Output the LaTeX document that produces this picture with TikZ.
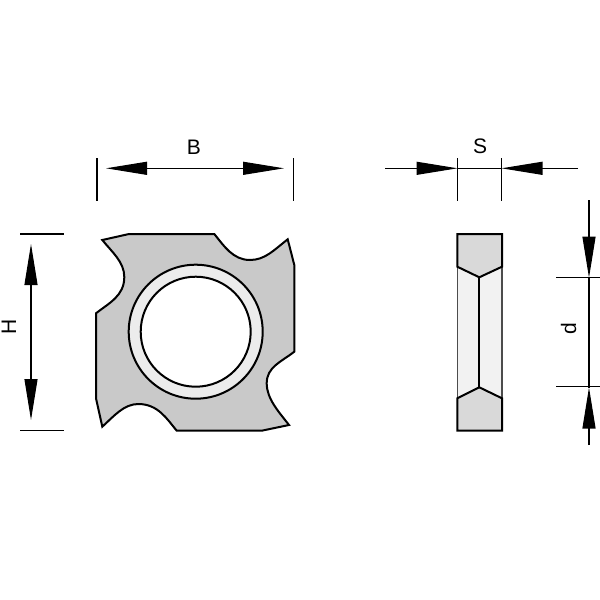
\documentclass[tikz,border=0pt]{standalone}
\usepackage{fontspec}
\setmainfont{Liberation Sans}
\usepackage{xcolor}
\usetikzlibrary{arrows.meta}
\tikzset{
    outline/.style={draw=black, line width=2pt, line join=miter},
    thinline/.style={draw=black!70, line width=1.4pt},
    dimline/.style={draw=black, line width=1.1pt},
    dimtip/.style={-{Triangle[length=41pt, width=13pt]}},
    dimboth/.style={{Triangle[length=41pt, width=13pt]}-{Triangle[length=41pt, width=13pt]}},
    dimlabel/.style={font=\fontsize{21}{21}\selectfont, inner sep=0pt}
}
\begin{document}
\begin{tikzpicture}[x=1pt, y=-1pt]
    \useasboundingbox (0,0) rectangle (600,600);

    % Front view
    \draw[outline, fill=gray!42] (102.3,240) -- (129,234) -- (214.3,234)
        .. controls (224,246) and (233,260) .. (250,260)
        .. controls (265,260) and (274,250) .. (287.7,239.3)
        -- (294.3,265) -- (294.3,351.7)
        .. controls (281,362) and (266.7,367) .. (266.7,383.3)
        .. controls (266.7,399) and (279,412) .. (289,425)
        -- (261.7,430.7) -- (176.7,430.7)
        .. controls (167,419) and (158,404) .. (138.3,404)
        .. controls (124,404) and (114,416) .. (102.3,426.7)
        -- (96,398.3) -- (96,313.3)
        .. controls (109,303) and (124.3,296) .. (124.3,277)
        .. controls (124.3,262) and (112,252) .. (102.3,240) -- cycle;
    \node[outline, circle, fill=gray!15, minimum size=134pt, inner sep=0pt] (ring) at (195.7,331.7) {};
    \node[outline, circle, fill=white, minimum size=110pt, inner sep=0pt] (bore) at (195.7,331.7) {};

    % Side view
    \draw[thinline, fill=gray!10] (457.3,266.7) rectangle (502,398.3);
    \draw[outline, fill=gray!30] (457.3,266.7) -- (457.3,234) -- (502,234) -- (502,266.7) -- (479.3,277.3) -- cycle;
    \draw[outline, fill=gray!30] (457.3,398.3) -- (457.3,430.7) -- (502,430.7) -- (502,398.3) -- (479.3,387.3) -- cycle;
    \draw[outline] (479.3,277.3) -- (479.3,387.3);

    % Extension lines
    \foreach \x in {97,293.7,457.5,501.5} {
        \draw[dimline] (\x,158) -- (\x,201);
    }
    \foreach \y in {234,430.7} {
        \draw[dimline] (20,\y) -- (64,\y);
    }
    \foreach \y in {277.7,386.7} {
        \draw[dimline] (556,\y) -- (600,\y);
    }

    % Dimension B
    \coordinate (bleft) at (106,168.3);
    \coordinate (bright) at (284,168.3);
    \draw[dimline, dimboth] (bleft) -- (bright);
    \node[dimlabel] (blabel) at (194,147.5) {B};

    % Dimension S
    \coordinate (sleft) at (385,168.3);
    \coordinate (sleftin) at (457.5,168.3);
    \coordinate (srightin) at (501.5,168.3);
    \coordinate (sright) at (578,168.3);
    \draw[dimline, dimtip] (sleft) -- (sleftin);
    \draw[dimline] (sleftin) -- (srightin);
    \draw[dimline, dimtip] (sright) -- (srightin);
    \node[dimlabel] (slabel) at (480,146) {S};

    % Dimension H
    \coordinate (htop) at (31,244);
    \coordinate (hbottom) at (31,420);
    \draw[dimline, dimboth] (htop) -- (hbottom);
    \node[dimlabel, rotate=90] (hlabel) at (9,327) {H};

    % Dimension d
    \coordinate (dstart) at (589,200);
    \coordinate (dtop) at (589,277.7);
    \coordinate (dbottom) at (589,387.5);
    \coordinate (dend) at (589,445);
    \draw[dimline, dimtip] (dstart) -- (dtop);
    \draw[dimline] (dtop) -- (dbottom);
    \draw[dimline, dimtip] (dend) -- (dbottom);
    \node[dimlabel, rotate=90] (dlabel) at (568.5,329) {d};
\end{tikzpicture}
\end{document}
